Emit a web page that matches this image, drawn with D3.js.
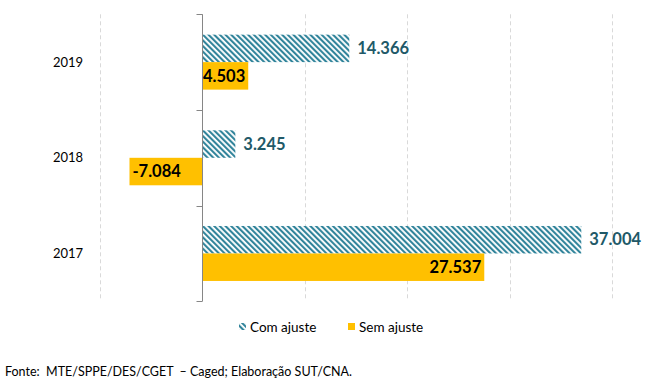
<!DOCTYPE html>
<html>
<head>
<meta charset="utf-8">
<script src="https://cdn.jsdelivr.net/npm/d3@7"></script>
<style>
  body { margin: 0; background: #fff; }
  svg { display: block; font-family: Lato, "Open Sans", sans-serif; }
  text { white-space: pre; }
</style>
</head>
<body>
<svg id="chart" width="649" height="386"></svg>
<script>
// data
const years = ["2019", "2018", "2017"];
const series = ["Com ajuste", "Sem ajuste"];
const comAjuste = [14366, 3245, 37004];
const semAjuste = [4503, -7084, 27537];
const xTicks = [-10000, 0, 10000, 20000, 30000, 40000];
const fonte = "Fonte:  MTE/SPPE/DES/CGET  \u2013 Caged; Elaboração SUT/CNA.";

const teal = "#31849B";
const tealText = "#215968";
const gold = "#FFC000";

const svg = d3.select("#chart");

// pattern for the hatched bars (downward diagonal)
const defs = svg.append("defs");
const pat = defs.append("pattern")
  .attr("id", "hatch")
  .attr("patternUnits", "userSpaceOnUse")
  .attr("width", 4)
  .attr("height", 4)
  .attr("patternTransform", "rotate(-45)");
pat.append("rect").attr("width", 4).attr("height", 4).attr("fill", "#fff");
pat.append("rect").attr("x", 0).attr("width", 2.1).attr("height", 4).attr("fill", teal);

const x = d3.scaleLinear().domain([-10000, 40000]).range([99.6, 612]);
const y = d3.scaleBand().domain(years).range([14.3, 301.3]);
const yInner = d3.scaleBand().domain(series)
  .range([0, y.bandwidth()]).paddingOuter(0.74);

const fmt = v => (v < 0 ? "-" : "") + d3.format(",")(Math.abs(v)).replace(/,/g, ".");

// dashed gridlines
svg.append("g")
  .selectAll("line")
  .data(xTicks.filter(d => d !== 0))
  .join("line")
  .attr("x1", d => Math.round(x(d)) + 0.5)
  .attr("x2", d => Math.round(x(d)) + 0.5)
  .attr("y1", y.range()[0])
  .attr("y2", y.range()[1])
  .attr("stroke", "#D9D9D9")
  .attr("stroke-dasharray", "4,3");

const rows = years.map((yr, i) => ({ yr, vals: [comAjuste[i], semAjuste[i]] }));

const g = svg.append("g")
  .selectAll("g")
  .data(rows)
  .join("g")
  .attr("transform", d => `translate(0,${y(d.yr)})`);

g.each(function (d) {
  const sel = d3.select(this);
  d.vals.forEach((v, k) => {
    const s = series[k];
    const x0 = Math.min(x(0), x(v));
    const x1 = Math.max(x(0), x(v));
    sel.append("rect")
      .attr("x", x0)
      .attr("y", yInner(s))
      .attr("width", x1 - x0)
      .attr("height", yInner.bandwidth())
      .attr("fill", k === 0 ? "url(#hatch)" : gold);

    const t = sel.append("text")
      .attr("y", yInner(s) + yInner.bandwidth() / 2)
      .attr("dy", "0.35em")
      .attr("font-size", 16.5)
      .attr("font-weight", "bold")
      .text(fmt(v));
    if (k === 0) {
      t.attr("x", x(v) + 8).attr("fill", tealText);
    } else if (v >= 0) {
      t.attr("x", x(v) - 3).attr("text-anchor", "end").attr("fill", "#000");
    } else {
      t.attr("x", x(v) + 3).attr("fill", "#000");
    }
  });
});

// category axis
const ax = svg.append("g")
  .attr("transform", `translate(${Math.round(x(0)) + 0.5},0)`);
const edges = [y.range()[0]].concat(years.map(d => y(d) + y.bandwidth()));
ax.append("line")
  .attr("y1", y.range()[0]).attr("y2", y.range()[1])
  .attr("stroke", "#868686");
ax.selectAll(".edge")
  .data(edges)
  .join("line")
  .attr("class", "edge")
  .attr("x1", -6).attr("x2", 0)
  .attr("y1", d => Math.round(d) + 0.5).attr("y2", d => Math.round(d) + 0.5)
  .attr("stroke", "#868686");

svg.append("g")
  .selectAll("text")
  .data(years)
  .join("text")
  .attr("x", 68)
  .attr("y", d => y(d) + y.bandwidth() / 2)
  .attr("dy", "0.35em")
  .attr("text-anchor", "middle")
  .attr("font-size", 13)
  .attr("fill", "#000")
  .text(d => d);

// legend
const legend = svg.append("g").attr("transform", "translate(239,327)");
const items = legend.selectAll("g")
  .data(series)
  .join("g")
  .attr("transform", (d, i) => `translate(${i * 109},0)`);
items.append("rect")
  .attr("x", 0).attr("y", -4)
  .attr("width", 7).attr("height", 7)
  .attr("fill", (d, i) => i === 0 ? "url(#hatch)" : gold);
items.append("text")
  .attr("x", 11)
  .attr("dy", "0.35em")
  .attr("font-size", 13.5)
  .text(d => d);

// source note
svg.append("text")
  .attr("x", 5)
  .attr("y", 376)
  .attr("font-size", 12.5)
  .attr("fill", "#000")
  .text(fonte);
</script>
</body>
</html>
